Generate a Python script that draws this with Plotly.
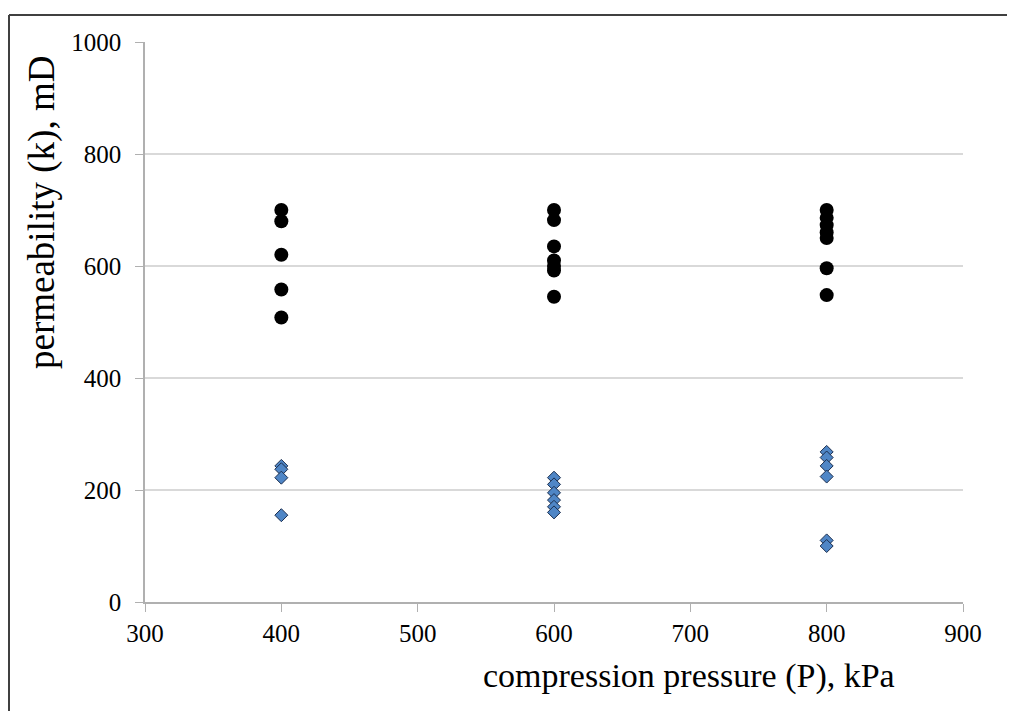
import plotly.graph_objects as go

# Data
x_dots = [400, 400, 400, 400, 400,
          600, 600, 600, 600, 600, 600, 600,
          800, 800, 800, 800, 800, 800, 800]
k_dots = [700, 680, 620, 558, 508,
          700, 682, 635, 610, 600, 592, 545,
          700, 686, 673, 660, 650, 596, 548]

x_diam = [400, 400, 400, 400,
          600, 600, 600, 600, 600, 600,
          800, 800, 800, 800, 800, 800]
k_diam = [243, 237, 222, 155,
          222, 210, 195, 182, 170, 160,
          268, 258, 243, 224, 110, 100]

x_ticks = [300, 400, 500, 600, 700, 800, 900]
y_ticks = [0, 200, 400, 600, 800, 1000]

OFF = 8  # page body margin offset
W, H = 1015, 711
L, R, T, B = 145 - OFF, 52 + OFF, 42 - OFF, 109 + OFF
pw, ph = W - L - R, H - T - B

def px(xs):
    return (xs - OFF - L) / pw

def py(ys):
    return (H - B - (ys - OFF)) / ph

font = "Liberation Serif, Times New Roman, serif"

fig = go.Figure()
fig.add_trace(go.Scatter(
    x=x_dots, y=k_dots, mode="markers",
    marker=dict(symbol="circle", size=14, color="black"),
    showlegend=False))
fig.add_trace(go.Scatter(
    x=x_diam, y=k_diam, mode="markers",
    marker=dict(symbol="diamond", size=10, color="#4f86c6",
                line=dict(color="#1c2f4f", width=1)),
    showlegend=False))

fig.update_layout(
    width=W, height=H,
    margin=dict(l=L, r=R, t=T, b=B),
    paper_bgcolor="white", plot_bgcolor="white",
    font=dict(family=font, color="black", size=25),
    xaxis=dict(range=[300, 900], tickvals=x_ticks, showgrid=False,
               showline=True, linecolor="#b0b0b0", linewidth=1.5,
               ticks="outside", ticklen=8, tickcolor="#b0b0b0",
               tickfont=dict(size=25, family=font), zeroline=False),
    yaxis=dict(range=[0, 1000], tickvals=y_ticks, showgrid=True,
               gridcolor="#d9d9d9", gridwidth=1.5,
               showline=True, linecolor="#b0b0b0", linewidth=1.5,
               ticks="outside", ticklen=8, tickcolor="#b0b0b0",
               ticklabelstandoff=9,
               tickfont=dict(size=25, family=font), zeroline=False),
)

fig.add_annotation(text="compression pressure (P), kPa", xref="paper", yref="paper",
                   x=px(689), y=py(676), xanchor="center", yanchor="middle",
                   showarrow=False, font=dict(size=34, family=font, color="black"))
fig.add_annotation(text="permeability (k), mD", xref="paper", yref="paper",
                   x=px(42), y=py(213), xanchor="center", yanchor="middle",
                   textangle=-90, showarrow=False,
                   font=dict(size=37, family=font, color="black"))

# outer frame (left and top edges)
fig.add_shape(type="line", xref="paper", yref="paper",
              x0=px(9), y0=py(15), x1=px(1030), y1=py(15),
              line=dict(color="#404040", width=2))
fig.add_shape(type="line", xref="paper", yref="paper",
              x0=px(9), y0=py(15), x1=px(9), y1=py(730),
              line=dict(color="#404040", width=2))

fig.write_html("out.html")
